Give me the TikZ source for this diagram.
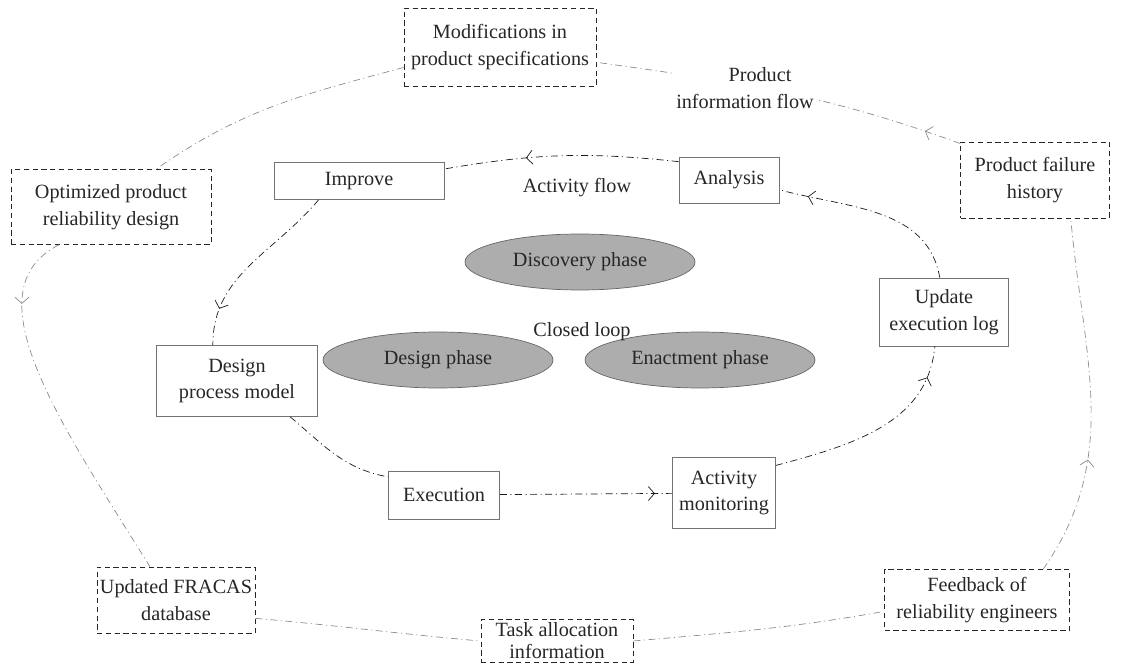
\documentclass[tikz,border=0pt]{standalone}
\usepackage{fontspec}
\setmainfont{Liberation Serif}
\usetikzlibrary{shapes.geometric,arrows.meta,decorations.markings}

\begin{document}
\begin{tikzpicture}[font=\fontsize{11.5}{15}\selectfont, text=black!85]

\tikzstyle{inbox}=[draw=black!55, align=center, inner sep=1pt]
\tikzstyle{outbox}=[draw=black!85, dash pattern=on 3pt off 2pt, align=center, inner sep=1pt]
\tikzstyle{phase}=[ellipse, draw=black!60, fill=black!32, minimum width=4.6cm, minimum height=1.12cm]
\tikzstyle{cr}=[black!90, dash pattern=on 4pt off 2pt on 0.6pt off 2pt]
\tikzstyle{co}=[black!45, dash pattern=on 4pt off 2pt on 0.6pt off 2pt]
\tikzset{mk/.style={postaction={decorate}, decoration={markings, mark=at position #1 with {\arrow{Straight Barb[length=3.5pt,width=8pt]}}}}}

\useasboundingbox (0,0) rectangle (22.8,13.3);

% outer boxes
\node(O1)[style = outbox, minimum width=3.84cm, minimum height=1.56cm] at (10.0,12.36) {Modifications in\\product specifications};
\node(O2)[style = outbox, minimum width=2.98cm, minimum height=1.52cm] at (20.7,9.7) {Product failure\\history};
\node(O3)[style = outbox, minimum width=4.0cm, minimum height=1.5cm] at (2.22,9.16) {Optimized product\\reliability design};
\node(O4)[style = outbox, minimum width=3.16cm, minimum height=1.32cm] at (3.52,1.3) {Updated FRACAS\\database};
\node(O5)[style = outbox, minimum width=3.04cm, minimum height=0.86cm, inner sep=0pt, font=\fontsize{11.5}{12.5}\selectfont] at (11.14,0.48) {Task allocation\\information};
\node(O6)[style = outbox, minimum width=3.7cm, minimum height=1.22cm] at (19.54,1.3) {Feedback of\\reliability engineers};

% inner boxes
\node(I1)[style = inbox, minimum width=3.4cm, minimum height=0.74cm] at (7.18,9.68) {Improve};
\node(I2)[style = inbox, minimum width=2.0cm, minimum height=0.92cm] at (14.58,9.7) {Analysis};
\node(I3)[style = inbox, minimum width=2.58cm, minimum height=1.36cm] at (18.88,7.06) {Update\\execution log};
\node(I4)[style = inbox, minimum width=3.22cm, minimum height=1.42cm] at (4.74,5.68) {Design\\process model};
\node(I5)[style = inbox, minimum width=2.22cm, minimum height=0.96cm] at (8.88,3.4) {Execution};
\node(I6)[style = inbox, minimum width=2.06cm, minimum height=1.42cm] at (14.48,3.44) {Activity\\monitoring};

% phases
\node(E1)[style = phase] at (11.6,8.06) {Discovery phase};
\node(E2)[style = phase] at (8.76,6.1) {Design phase};
\node(E3)[style = phase] at (14.0,6.1) {Enactment phase};

% text nodes
\node(L1) at (11.54,9.54) {Activity flow};
\node(L2) at (11.64,6.66) {Closed loop};

% inner loop
\draw[style = cr, mk=0.65] (I2.160) to[bend right=8] (I1.8);
\draw[style = cr, mk=0.8] (I1.205) to[out=230,in=90] (I4.124);
\draw[style = cr] (I4.326) to[out=-40,in=170] (I5.162);
\draw[style = cr, mk=0.9] (I5) -- (I6);
\draw[style = cr, mk=0.85] (I6.28) to[out=15,in=-95] (I3.255);
\draw[style = cr, mk=0.85] (I3.97) to[out=100,in=-15] (I2.349);

% outer loop
\draw[style = co] (O1.192) to[out=195,in=35] (O3.40);
\draw[style = co, mk=0.2] (O3.216) to[out=207,in=122,out looseness=0.77,in looseness=1.32] (O4.128);
\draw[style = co] (O4.-13) to[out=-5,in=175] (O5.west);
\draw[style = co] (O5.east) to[out=5,in=190] (O6.187);
\draw[style = co, mk=0.33] (O6.25) to[out=55,in=-85] (O2.-47);
\draw[style = co, mk=0.1] (O2.154) to[out=160,in=-8] (O1.351);

\node(L3)[align=center, fill=white, inner sep=1pt] at (14.9,11.54) {\hspace*{0.6cm}Product\\information flow};

\end{tikzpicture}
\end{document}
